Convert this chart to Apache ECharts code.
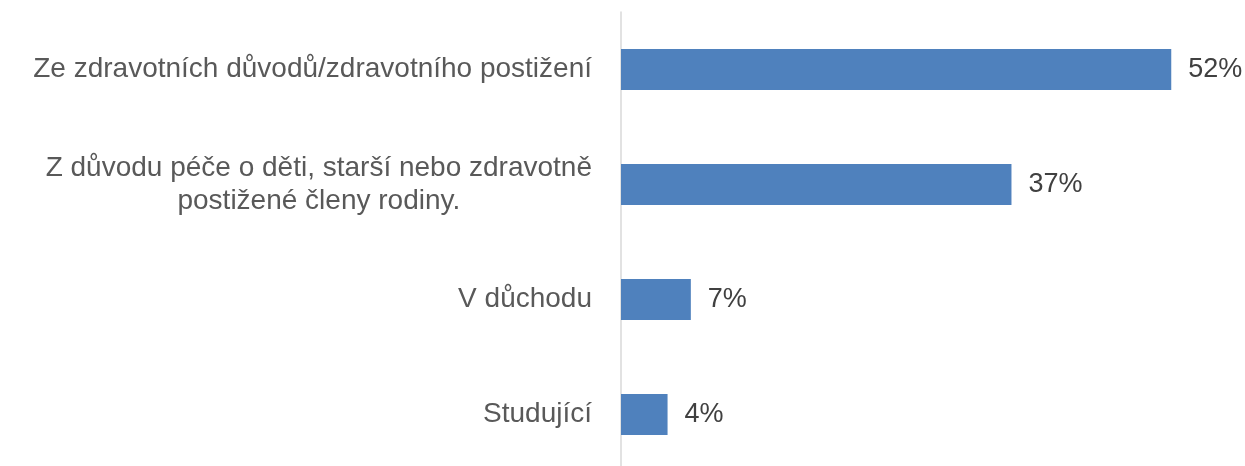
<!DOCTYPE html>
<html>
<head>
<meta charset="utf-8">
<script src="https://cdn.jsdelivr.net/npm/echarts@6/dist/echarts.min.js"></script>
<style>
  html, body { margin: 0; padding: 0; background: #fff; overflow: hidden; }
  #chart { width: 1245px; height: 472px; }
</style>
</head>
<body>
<div id="chart"></div>
<script>
const categories = [
  'Ze zdravotních důvodů/zdravotního postižení',
  'Z důvodu péče o děti, starší nebo zdravotně\npostižené členy rodiny.',
  'V důchodu',
  'Studující',
]
const values = [52, 36.9, 6.6, 4.4]

const font = '"Liberation Sans", Arial, sans-serif'

// the bottom band runs a few pixels past the window, as in the original
echarts.init(document.getElementById('chart')).setOption({
  animation: false,
  grid: { left: 621, right: 42, top: 12, bottom: 0 },
  xAxis: { type: 'value', min: 0, max: 55, show: false },
  yAxis: {
    type: 'category',
    inverse: true,
    data: categories,
    axisLine: { lineStyle: { color: '#d9d9d9', width: 1.5 } },
    axisTick: { show: false },
    axisLabel: {
      margin: 29,
      formatter: (v) => '{a|' + v + '}',
      rich: {
        a: { fontFamily: font, fontSize: 28, color: '#595959', lineHeight: 33, align: 'center' },
      },
    },
  },
  series: [
    {
      type: 'bar',
      data: values,
      barWidth: 41,
      itemStyle: { color: '#4f81bd' },
      label: {
        show: true,
        position: 'right',
        distance: 17,
        fontFamily: font,
        fontSize: 27,
        color: '#404040',
        formatter: (p) => Math.round(p.value) + '%',
      },
    },
  ],
})
</script>
</body>
</html>
